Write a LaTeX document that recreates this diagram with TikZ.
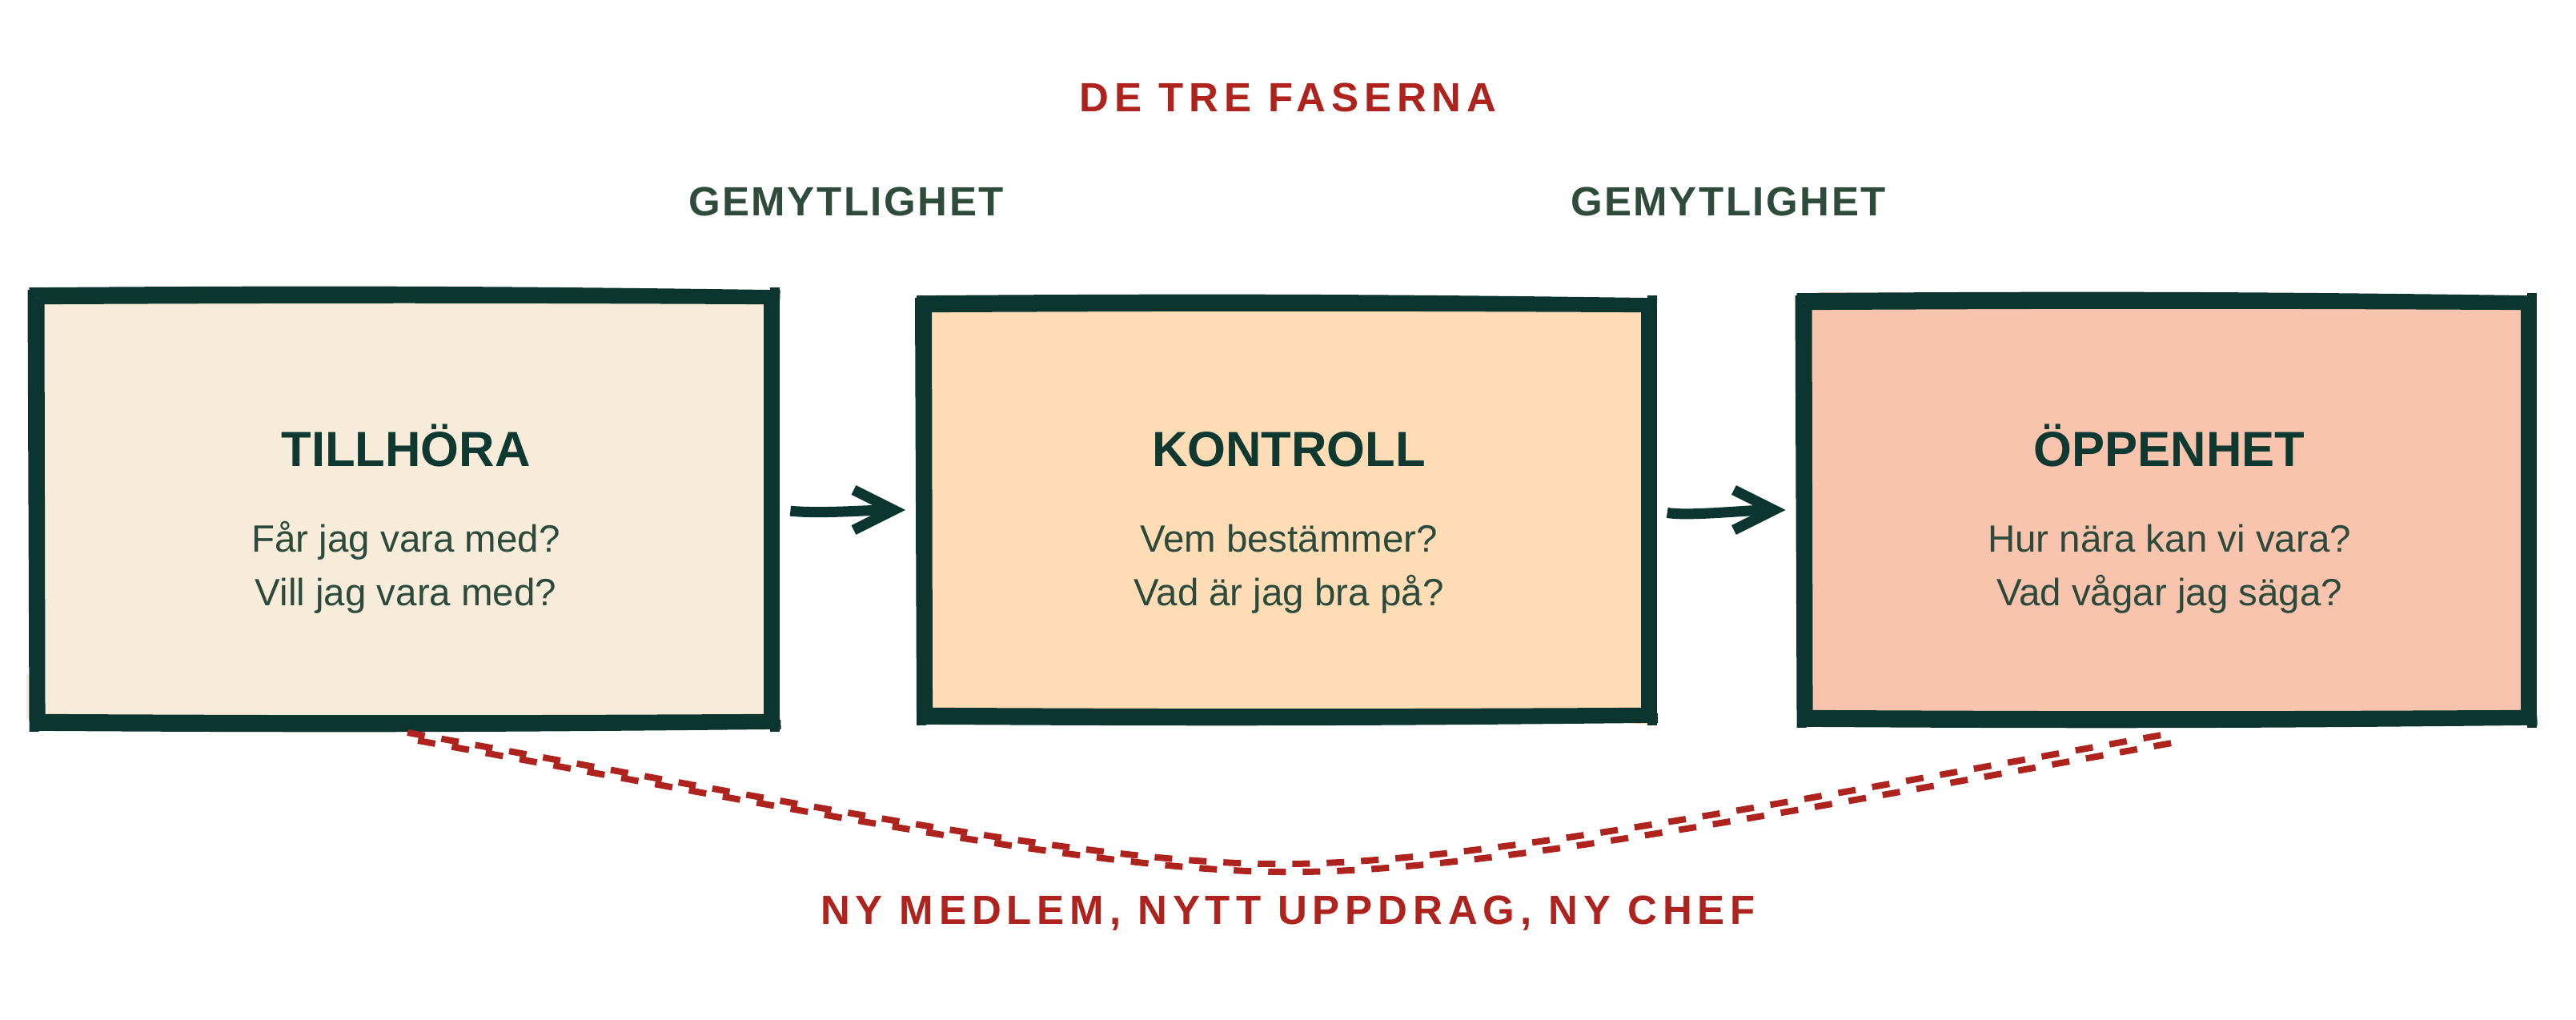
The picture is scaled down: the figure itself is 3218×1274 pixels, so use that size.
\documentclass[tikz,border=0pt]{standalone}
\usepackage{fontspec}
\setmainfont{Liberation Sans}
\newfontfamily\redtrack{Liberation Sans}[LetterSpace=13.5]
\newfontfamily\greentrack{Liberation Sans}[LetterSpace=5]
\usetikzlibrary{calc,arrows.meta}
\definecolor{ink}{HTML}{0D3530}
\definecolor{titleink}{HTML}{0E3830}
\definecolor{qink}{HTML}{2C4A3B}
\definecolor{hgreen}{HTML}{2F4B3B}
\definecolor{accent}{HTML}{AF231E}
\definecolor{fillA}{HTML}{F7ECDA}
\definecolor{fillB}{HTML}{FDDCB6}
\definecolor{fillC}{HTML}{F8C4AE}
\tikzset{
  phasebox/.style={rectangle, inner sep=0pt, draw=none},
  sketchline/.style={draw=ink, line width=0.12cm, line cap=rect},
  boxtitle/.style={anchor=base, text=titleink, font=\bfseries\fontsize{17.5}{21}\selectfont},
  question/.style={anchor=base, text=qink, font=\fontsize{13.5}{16}\selectfont},
  redlabel/.style={anchor=base, text=accent, font=\redtrack\bfseries\fontsize{14.5}{17}\selectfont},
  greenlabel/.style={anchor=base, text=hgreen, font=\greentrack\bfseries\fontsize{14.5}{17}\selectfont},
  flow/.style={draw=ink, line width=0.13cm, -{Straight Barb[length=0.5cm,width=0.5cm]}, shorten <=0.22cm, shorten >=0.22cm},
  phasedash/.style={draw=accent, line width=0.08cm, dash pattern=on 0.22cm off 0.21cm},
}
\newcommand\sketchframe[1]{%
  % top
  \draw[sketchline] ($(#1.north west)+(-2,-5)$) to[bend left=0.6] ($(#1.north east)+(3,-2)$);
  \draw[sketchline] ($(#1.north west)+(8,4)$) to[bend left=0.3] ($(#1.north east)+(-8,4)$);
  % right
  \draw[sketchline] ($(#1.north east)+(3,-5)$) -- ($(#1.south east)+(3,6)$);
  \draw[sketchline] ($(#1.north east)+(-5,6)$) -- ($(#1.south east)+(-5,-8)$);
  % bottom
  \draw[sketchline] ($(#1.south west)+(0,5)$) to[bend right=0.5] ($(#1.south east)+(4,3)$);
  \draw[sketchline] ($(#1.south west)+(10,-4)$) to[bend right=0.3] ($(#1.south east)+(-8,-4)$);
  % left
  \draw[sketchline] ($(#1.north west)+(-4,-2)$) -- ($(#1.south west)+(-2,6)$);
  \draw[sketchline] ($(#1.north west)+(5,8)$) -- ($(#1.south west)+(6,-6)$);
}
\begin{document}
\begin{tikzpicture}[x=0.01cm, y=-0.01cm]
\useasboundingbox (0,0) rectangle (3218,1274);

% headings
\node[redlabel] (title) at (1609,140) {DE TRE FASERNA};
\node[greenlabel] (g1) at (1057,270) {GEMYTLIGHET};
\node[greenlabel] (g2) at (2159,270) {GEMYTLIGHET};

% boxes
\node[phasebox, fill=fillA, minimum width=9.19cm, minimum height=5.3cm] (b1) at (505,636) {};
\node[phasebox, fill=fillB, minimum width=9.06cm, minimum height=5.12cm] (b2) at (1607,637) {};
\node[phasebox, fill=fillC, minimum width=9.05cm, minimum height=5.18cm] (b3) at (2706,637) {};

% fill slivers beyond the frames
\fill[fillA] ($(b1.south west)+(-12,-60)$) -- ($(b1.south west)+(8,-60)$) -- ($(b1.south west)+(8,-4)$) -- ($(b1.south west)+(-12,-4)$) -- cycle;
\fill[fillB] ($(b2.south east)+(-140,0)$) -- ($(b2.south east)+(8,0)$) -- ($(b2.south east)+(8,12)$) -- cycle;
\fill[fillC] ($(b3.north west)+(20,-12)$) -- ($(b3.north east)+(-300,-10)$) -- ($(b3.north east)+(-300,0)$) -- ($(b3.north west)+(20,0)$) -- cycle;

\sketchframe{b1}
\sketchframe{b2}
\sketchframe{b3}

% box texts
\node[boxtitle] (t1) at (507,583) {TILLHÖRA};
\node[question] (q1a) at (507,690) {Får jag vara med?};
\node[question] (q1b) at (507,757) {Vill jag vara med?};

\node[boxtitle] (t2) at (1610,583) {KONTROLL};
\node[question] (q2a) at (1610,690) {Vem bestämmer?};
\node[question] (q2b) at (1610,757) {Vad är jag bra på?};

\node[boxtitle] (t3) at (2710,583) {ÖPPENHET};
\node[question] (q3a) at (2710,690) {Hur nära kan vi vara?};
\node[question] (q3b) at (2710,757) {Vad vågar jag säga?};

% arrows
\draw[flow] (b1.east) .. controls +(60,6) and +(-70,0) .. (b2.west);
\draw[flow] (b2.east) .. controls +(50,8) and +(-70,0) .. (b3.west);

% dashed return curve (double stroke)
\foreach \dx/\dy in {-6/-5, 7/5} {
  \begin{scope}[shift={(\dx,\dy)}]
    \draw[phasedash] (515,920) .. controls (1000,1008) and (1380,1086) .. (1610,1084)
      .. controls (1840,1084) and (2220,1010) .. (2712,922);
  \end{scope}
}

\node[redlabel] (bottom) at (1609,1155) {NY MEDLEM, NYTT UPPDRAG, NY CHEF};
\end{tikzpicture}
\end{document}
